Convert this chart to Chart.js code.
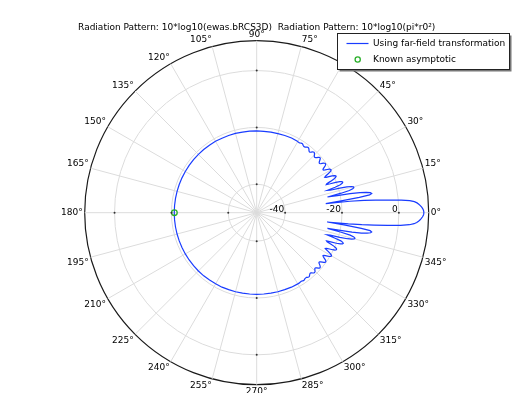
<!DOCTYPE html>
<html>
<head>
<meta charset="utf-8">
<script src="https://cdn.jsdelivr.net/npm/chart.js@4.4.1/dist/chart.umd.min.js"></script>
<style>
  html, body { margin: 0; padding: 0; background: #fff; overflow: hidden; }
  #wrap { width: 525px; height: 393px; overflow: hidden; }
</style>
</head>
<body>
<div id="wrap"><canvas id="chart" width="525" height="420"></canvas></div>
<script>
// Far-field pattern in dB
const stepDeg = 0.5;

// 0 .. 60 deg, every 0.5 deg
const upperDb = [
  8.8, 8.75, 8.6, 8.35, 8.0, 7.6, 7.1, 6.5, 5.6, 4.0,
  1.0, -3.5, -8.0, -12.0, -17.0, -25.5, -20, -13.5, -9.8, -9.0,
  -9.4, -10.8, -13, -16.5, -21, -24.5, -19.5, -16.5, -15.2, -14.7,
  -14.8, -15.5, -17, -19.5, -23, -24, -21, -19, -18.2, -17.9,
  -18.1, -18.8, -20.2, -22.2, -23.6, -23.3, -21.8, -20.5, -19.7, -19.3,
  -19.3, -19.7, -20.5, -21.6, -22.6, -23, -22.5, -21.5, -20.6, -20,
  -19.8, -19.9, -20.3, -20.9, -21.6, -22.1, -22.2, -21.9, -21.3, -20.7,
  -20.4, -20.3, -20.4, -20.7, -21.2, -21.7, -21.9, -21.9, -21.7, -21.3,
  -20.9, -20.6, -20.5, -20.6, -20.9, -21.3, -21.6, -21.8, -21.8, -21.6,
  -21.3, -21.0, -20.8, -20.7, -20.8, -21.0, -21.3, -21.6, -21.7, -21.6,
  -21.4, -21.1, -20.9, -20.8, -20.8, -20.9, -21.1, -21.3, -21.4, -21.4,
  -21.3, -21.2, -21, -20.9, -20.9, -21, -21.1, -21.2, -21.2, -21.2,
  -21.1
];

// -0.5 .. -60 deg (359.5 .. 300), every 0.5 deg
const lowerDb = [
  8.75, 8.6, 8.3, 7.95, 7.55, 7.0, 6.4, 5.5, 3.9, 0.8,
  -3.8, -8.5, -12.8, -17.5, -25, -19, -12.8, -9.6, -9.0, -9.3,
  -10.5, -12.5, -15.8, -20.5, -24.5, -19.5, -16.2, -14.8, -14.3, -14.5,
  -15.3, -16.8, -19.5, -23, -24, -21, -18.8, -18, -17.7, -17.9,
  -18.6, -20, -22, -23.5, -23.2, -21.6, -20.3, -19.5, -19.1, -19.1,
  -19.5, -20.3, -21.4, -22.4, -22.8, -22.3, -21.3, -20.5, -19.9, -19.6,
  -19.7, -20.1, -20.8, -21.5, -22.0, -22.2, -21.9, -21.3, -20.7, -20.3,
  -20.2, -20.3, -20.6, -21.1, -21.6, -21.9, -22.0, -21.8, -21.3, -20.9,
  -20.6, -20.5, -20.6, -20.9, -21.3, -21.6, -21.7, -21.6, -21.3, -21.0,
  -20.8, -20.7, -20.8, -21.0, -21.3, -21.5, -21.6, -21.5, -21.3, -21.1,
  -20.9, -20.9, -21.0, -21.1, -21.3, -21.3, -21.3, -21.2, -21.1, -21,
  -21, -21.1, -21.2, -21.2, -21.2, -21.2, -21.1, -21.1, -21.1, -21.1
];

// back side, coarser
const backAngles = [
  65, 70, 75, 80, 85, 90, 95, 100, 105, 110,
  115, 120, 125, 130, 135, 140, 145, 150, 155, 160,
  165, 170, 175, 180, 185, 190, 195, 200, 205, 210,
  215, 220, 225, 230, 235, 240, 245, 250, 255, 260,
  265, 270, 275, 280, 285, 290, 295
];
const backDb = [
  -21.0, -21.1, -21.2, -21.2, -21.3, -21.2, -21.2, -21.2, -21.1, -21.1,
  -21.1, -21.0, -21.0, -21.0, -21.0, -21.0, -21.0, -21.0, -21.0, -21.0,
  -21.0, -21.0, -21.0, -21.0, -21.0, -21.0, -21.0, -21.0, -21.0, -21.0,
  -21.0, -21.0, -21.0, -21.0, -21.1, -21.1, -21.1, -21.2, -21.2, -21.3,
  -21.3, -21.3, -21.3, -21.3, -21.2, -21.2, -21.1
];

const asymptoticAngles = [180];
const asymptoticDb = [-21.05];

const radialTicks = [-40, -20, 0];
const angleTicks = [0, 15, 30, 45, 60, 75, 90, 105, 120, 135, 150, 165,
                    180, 195, 210, 225, 240, 255, 270, 285, 300, 315, 330, 345];
const rMin = -50;
const rMax = 10.5;

const titleText = 'Radiation Pattern: 10*log10(ewas.bRCS3D)  Radiation Pattern: 10*log10(pi*r0\u00B2)';
const seriesNames = ['Using far-field transformation', 'Known asymptotic'];

// radar categories: index 0 points right, going clockwise on screen
const nSteps = 360 / stepDeg;
const radarLabels = [];
for (let i = 0; i < nSteps; i++) radarLabels.push(((nSteps - i) % nSteps) * stepDeg);

function indexOfAngle(deg) {
  const a = ((deg % 360) + 360) % 360;
  return Math.round(((360 - a) % 360) / stepDeg) % nSteps;
}

function toSeries(angles, values) {
  const out = new Array(nSteps).fill(null);
  angles.forEach((a, k) => { out[indexOfAngle(a)] = values[k]; });
  return out;
}

const farAngles = [], farDb = [];
upperDb.forEach((v, k) => { farAngles.push(k * stepDeg); farDb.push(v); });
lowerDb.forEach((v, k) => { farAngles.push(-(k + 1) * stepDeg); farDb.push(v); });
backAngles.forEach((a, k) => { farAngles.push(a); farDb.push(backDb[k]); });

const FONT = 'DejaVu Sans';
const BLUE = 'rgb(25, 60, 255)';
const GREEN = 'rgb(40, 175, 40)';

// title, tick labels, tick dots and the boxed legend
const decorPlugin = {
  id: 'decor',
  afterDatasetsDraw(chart) {
    const s = chart.scales.r;
    const ctx = chart.ctx;
    ctx.save();
    ctx.fillStyle = '#000';
    ctx.font = '9px "' + FONT + '"';
    ctx.textAlign = 'right';
    ctx.textBaseline = 'alphabetic';
    radialTicks.forEach(v => {
      const d = s.getDistanceFromCenterForValue(v);
      ctx.fillText(String(v), s.xCenter + d - 1, s.yCenter - 0.5);
    });
    ctx.fillStyle = '#333';
    radialTicks.forEach(v => {
      const d = s.getDistanceFromCenterForValue(v);
      [[d, 0], [0, -d], [-d, 0], [0, d]].forEach(([dx, dy]) => {
        ctx.beginPath();
        ctx.arc(s.xCenter + dx, s.yCenter + dy, 1, 0, Math.PI * 2);
        ctx.fill();
      });
    });
    ctx.restore();
  },
  afterDraw(chart) {
    const s = chart.scales.r;
    const ctx = chart.ctx;
    ctx.save();
    ctx.font = '9px "' + FONT + '"';
    ctx.fillStyle = '#000';
    ctx.textAlign = 'center';
    ctx.textBaseline = 'middle';
    ctx.fillText(titleText, s.xCenter, 28);

    // legend box with shadow
    const bx = 337.5, by = 33.5, bw = 172, bh = 36;
    ctx.fillStyle = '#777';
    ctx.fillRect(bx + 2, by + 2, bw, bh);
    ctx.fillStyle = '#fff';
    ctx.fillRect(bx, by, bw, bh);
    ctx.strokeStyle = '#222';
    ctx.lineWidth = 1;
    ctx.strokeRect(bx, by, bw, bh);

    ctx.strokeStyle = BLUE;
    ctx.lineWidth = 1.2;
    ctx.beginPath();
    ctx.moveTo(346.5, 43.5);
    ctx.lineTo(368.5, 43.5);
    ctx.stroke();

    ctx.strokeStyle = GREEN;
    ctx.lineWidth = 1.3;
    ctx.beginPath();
    ctx.arc(357.7, 59.5, 2.6, 0, Math.PI * 2);
    ctx.stroke();

    ctx.fillStyle = '#000';
    ctx.textAlign = 'left';
    ctx.fillText(seriesNames[0], 373, 43.5);
    ctx.fillText(seriesNames[1], 373, 59.5);
    ctx.restore();
  }
};

new Chart(document.getElementById('chart').getContext('2d'), {
  type: 'radar',
  data: {
    labels: radarLabels,
    datasets: [
      {
        label: seriesNames[1],
        data: toSeries(asymptoticAngles, asymptoticDb),
        showLine: false,
        borderColor: 'rgba(0,0,0,0)',
        pointStyle: 'circle',
        pointRadius: 2.8,
        pointBorderWidth: 1.3,
        pointBorderColor: GREEN,
        pointBackgroundColor: 'rgba(0,0,0,0)',
        fill: false,
        order: 0
      },
      {
        label: seriesNames[0],
        data: toSeries(farAngles, farDb),
        borderColor: BLUE,
        borderWidth: 1.2,
        pointRadius: 0,
        fill: false,
        tension: 0,
        spanGaps: true,
        order: 1
      }
    ]
  },
  options: {
    responsive: false,
    animation: false,
    devicePixelRatio: 1,
    layout: { padding: 0 },
    plugins: {
      legend: { display: false },
      tooltip: { enabled: false },
      title: { display: false }
    },
    scales: {
      r: {
        min: rMin,
        max: rMax,
        startAngle: 90,
        ticks: { display: false },
        grid: {
          circular: true,
          color: (c) => c.tick.value === rMax ? '#1a1a1a'
            : (radialTicks.includes(c.tick.value) ? '#dcdcdc' : 'rgba(0,0,0,0)'),
          lineWidth: (c) => c.tick.value === rMax ? 1.2 : 1
        },
        angleLines: {
          color: '#dcdcdc',
          lineWidth: (c) => angleTicks.includes(radarLabels[c.index]) ? 1 : 0
        },
        pointLabels: {
          font: { family: FONT, size: 9, lineHeight: 1 },
          color: '#000',
          padding: 2,
          callback: (label) => angleTicks.includes(label) ? label + '\u00B0' : ''
        },
        afterBuildTicks: (scale) => {
          scale.ticks = [rMin].concat(radialTicks, [rMax]).map(v => ({ value: v }));
        },
        afterSetDimensions: (scale) => {
          // plot circle position and size as in the reference
          scale.xCenter = 256.7;
          scale.yCenter = 212.7;
          scale.drawingArea = 172;
        }
      }
    }
  },
  plugins: [decorPlugin]
});
</script>
</body>
</html>
